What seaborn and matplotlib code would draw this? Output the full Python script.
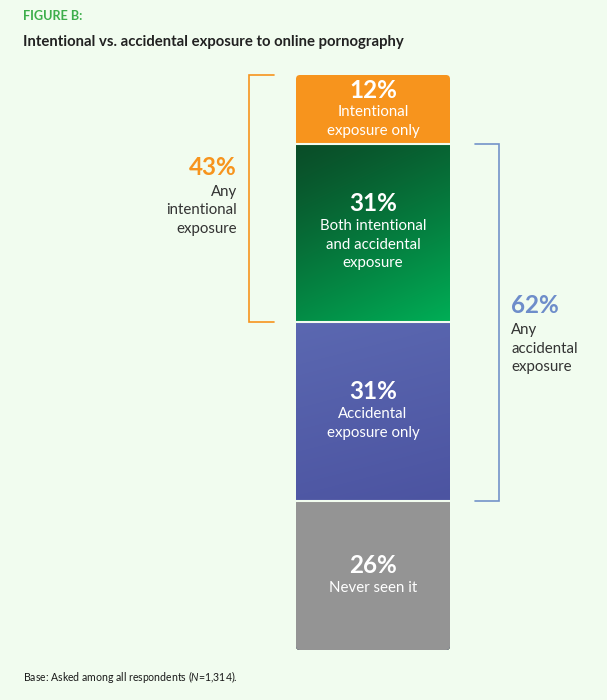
import numpy as np
import pandas as pd
import matplotlib
matplotlib.use("Agg")
import matplotlib.pyplot as plt
from matplotlib.patches import FancyBboxPatch
from matplotlib.colors import to_rgb
import seaborn as sns

# ---------------- data (top of bar to bottom) ----------------
segments = ["Intentional exposure only", "Both intentional and accidental exposure",
            "Accidental exposure only", "Never seen it"]
values = [12, 31, 31, 26]
seg_labels = [["Intentional", "exposure only"],
              ["Both intentional", "and accidental", "exposure"],
              ["Accidental", "exposure only"],
              ["Never seen it"]]
seg_colors = ["#F7941D", "#0A5A2E", "#5560AA", "#949494"]
group_left_value = 43
group_left_label = ["Any", "intentional", "exposure"]
group_right_value = 62
group_right_label = ["Any", "accidental", "exposure"]
title_kicker = "FIGURE B:"
title = "Intentional vs. accidental exposure to online pornography"
footer = r"Base: Asked among all respondents ($\mathit{N}$=1,314)."

BG = "#F1FCEF"

sns.set_theme(style="white")
plt.rcParams["font.family"] = ["Lato", "DejaVu Sans"]
plt.rcParams["mathtext.fontset"] = "custom"
plt.rcParams["mathtext.it"] = "Lato:italic"
plt.rcParams["mathtext.rm"] = "Lato"

W, H = 607, 700
fig = plt.figure(figsize=(W / 100, H / 100), dpi=100, facecolor=BG)
bar_bottom_px, bar_top_px = 650, 75
ax = fig.add_axes([0, (H - bar_bottom_px) / H, 1, (bar_bottom_px - bar_top_px) / H])
ax.set_facecolor(BG)

# cumulative tops (stack from bottom)
vals_arr = np.array(values)
tops = 100 - np.concatenate([[0], np.cumsum(vals_arr)[:-1]])
bottoms = tops - vals_arr
df = pd.DataFrame({"x": ["bar"] * len(segments), "top": tops, "segment": segments})

sns.barplot(data=df, x="x", y="top", hue="segment", hue_order=segments,
            palette=dict(zip(segments, seg_colors)), dodge=False, width=0.8,
            legend=False, ax=ax, linewidth=0, saturation=1)

# axis scaling: bar centre at px 373, width 0.8 -> 154 px
px_per_x = 154 / 0.8
cx = 373
def X(px):
    return (px - cx) / px_per_x

ax.set_xlim(X(0), X(W))
ax.set_ylim(0, 100)
ax.axis("off")
px_per_y = (bar_bottom_px - bar_top_px) / 100

x0, x1 = -0.4, 0.4
r = 4 / px_per_x
outline = FancyBboxPatch((x0, 0), x1 - x0, 100, boxstyle=f"round,pad=0,rounding_size={r}",
                         mutation_aspect=px_per_x / px_per_y, transform=ax.transData,
                         fc="none", ec="none")
ax.add_patch(outline)
for p in ax.patches:
    p.set_clip_path(outline)

# gradients
def grad_img(c_tl, c_br, n=200, wx=0.3, wy=0.8, gamma=1.3):
    u = np.linspace(0, 1, n)[None, :]
    v = np.linspace(0, 1, n)[:, None]
    t = np.clip((wx * u + wy * v) / (wx + wy), 0, 1) ** gamma
    a, b = np.array(to_rgb(c_tl)), np.array(to_rgb(c_br))
    return a[None, None, :] * (1 - t[..., None]) + b[None, None, :] * t[..., None]

g = grad_img("#0A4D28", "#00AE56", wx=0.35, wy=0.85, gamma=1.2)
im = ax.imshow(g, extent=[x0, x1, bottoms[1], tops[1]], origin="upper", aspect="auto",
               interpolation="bilinear", zorder=2)
im.set_clip_path(outline)
b = grad_img("#5B68B1", "#4C54A1", wx=0.2, wy=0.9, gamma=1.0)
im2 = ax.imshow(b, extent=[x0, x1, bottoms[2], tops[2]], origin="upper", aspect="auto",
                interpolation="bilinear", zorder=2)
im2.set_clip_path(outline)
ax.set_xlim(X(0), X(W))
ax.set_ylim(0, 100)

# separators
ax.hlines(bottoms[:-1], x0, x1, color=BG, lw=1.5, zorder=3)

PT = 0.72  # px -> pt
PCT_FS = 17.5
LBL_FS = 10.8
def put(x, y, dy_px, s, **kw):
    ax.annotate(s, (x, y), xytext=(0, -dy_px * PT), textcoords="offset points",
                va="center", annotation_clip=False, zorder=5, **kw)

# segment texts
for i, (seg_top, seg_bot) in enumerate(zip(tops, bottoms)):
    n = len(seg_labels[i])
    mid = (seg_top + seg_bot) / 2
    pct_off = -9.5 - 10 * (n - 1)
    put(0, mid, pct_off, f"{values[i]}%", ha="center", color="white",
        fontsize=PCT_FS, fontweight="bold")
    for k, line in enumerate(seg_labels[i]):
        put(0, mid, pct_off + 22.5 + 18.5 * k, line, ha="center", color="white",
            fontsize=LBL_FS)

# left bracket (intentional)
orange = "#F7941D"
lt, lb = 100, 100 - group_left_value
ax.plot([X(274), X(249), X(249), X(274)], [lt, lt, lb, lb], color=orange, lw=1.2,
        solid_joinstyle="miter", clip_on=False)
lmid = (lt + lb) / 2
put(X(237), lmid, -31, f"{group_left_value}%", ha="right", color=orange,
    fontsize=PCT_FS, fontweight="bold")
for k, line in enumerate(group_left_label):
    put(X(237), lmid, -6.5 + 18.3 * k, line, ha="right", color="#333333", fontsize=LBL_FS)

# right bracket (accidental)
blue = "#7393C9"
rt, rb = tops[1], tops[1] - group_right_value
ax.plot([X(475), X(499), X(499), X(475)], [rt, rt, rb, rb], color=blue, lw=1.2,
        solid_joinstyle="miter", clip_on=False)
rmid = (rt + rb) / 2
put(X(511), rmid, -17, f"{group_right_value}%", ha="left", color="#6E8DCA",
    fontsize=PCT_FS, fontweight="bold")
for k, line in enumerate(group_right_label):
    put(X(511), rmid, 8 + 18.3 * k, line, ha="left", color="#333333", fontsize=LBL_FS)

# titles and footer
fig.text(23 / W, 1 - 16 / H, title_kicker, ha="left", va="center", color="#3DAE4B",
         fontsize=9.1, fontweight="bold")
fig.text(23 / W, 1 - 42 / H, title, ha="left", va="center", color="#222222",
         fontsize=10.7, fontweight="bold")
fig.text(23 / W, 1 - 677 / H, footer, ha="left", va="center", color="#1A1A1A",
         fontsize=7.6)

fig.savefig("out.png", dpi=100, facecolor=BG)
